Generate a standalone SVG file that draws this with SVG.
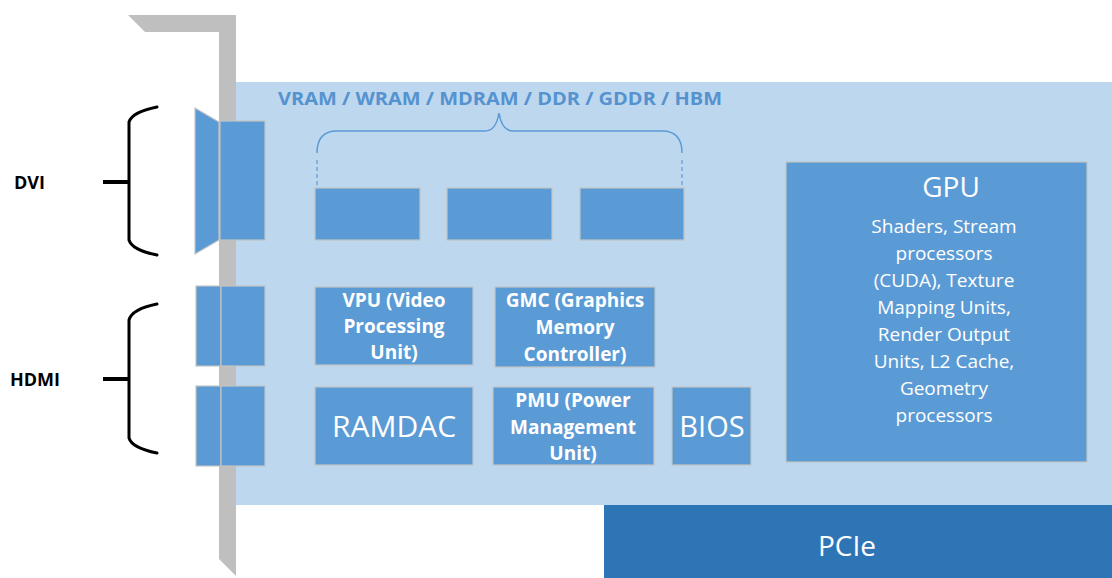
<svg xmlns="http://www.w3.org/2000/svg" width="1112" height="578" viewBox="0 0 1112 578">
<style>
.box{fill:#5b9bd5;stroke:#c3c3c3;stroke-width:1.2}
.wt{fill:#ffffff;font-family:"Open Sans","Liberation Sans",sans-serif;text-anchor:middle}
.b{font-weight:bold}
.brace{fill:none;stroke:#000;stroke-width:3;stroke-linecap:round}
.lbl{font-family:"Open Sans","Liberation Sans",sans-serif;font-weight:bold;font-size:18px;fill:#000}
</style>
<rect width="1112" height="578" fill="#ffffff"/>
<g id="board">
<rect x="236" y="82" width="876" height="423" fill="#bdd7ee"/>
</g>
<g id="bracket">
<polygon points="128,15 236,15 236,576 219,559 219,32 145,32" fill="#bfbfbf"/>
</g>
<g id="pcie">
<rect x="604" y="505" width="508" height="73" fill="#2e75b6"/>
<text class="wt" x="847" y="556" font-size="28">PCIe</text>
</g>
<g id="dvi-port">
<polygon class="box" points="195,108 219,122 219,240 195,254"/>
<rect class="box" x="220" y="121" width="45" height="119"/>
</g>
<g id="hdmi-port-1">
<rect class="box" x="196" y="286" width="25" height="80"/>
<rect class="box" x="221" y="286" width="44" height="80"/>
</g>
<g id="hdmi-port-2">
<rect class="box" x="196" y="386" width="25" height="80"/>
<rect class="box" x="221" y="386" width="44" height="80"/>
</g>
<g id="dvi-label">
<path class="brace" d="M157,107 Q132,112 129,122 L129,240 Q132,250 157,255"/>
<line x1="103" y1="182" x2="129" y2="182" stroke="#000" stroke-width="4"/>
<text class="lbl" x="14" y="189">DVI</text>
</g>
<g id="hdmi-label">
<path class="brace" d="M157,304 Q132,309 129,320 L129,438 Q132,448 157,453"/>
<line x1="103" y1="379" x2="129" y2="379" stroke="#000" stroke-width="4"/>
<text class="lbl" x="10" y="386">HDMI</text>
</g>
<g id="memory">
<text x="500" y="105" font-family="'Open Sans','Liberation Sans',sans-serif" font-weight="bold" font-size="18" fill="#5592cf" text-anchor="middle" textLength="444" lengthAdjust="spacingAndGlyphs">VRAM / WRAM / MDRAM / DDR / GDDR / HBM</text>
<path d="M317,153 Q317,131 337,131 L485,131 Q496,131 499,113 Q502,131 513,131 L662,131 Q682,131 682,153" fill="none" stroke="#5b9bd5" stroke-width="1.5"/>
<line x1="317" y1="160" x2="317" y2="208" stroke="#5b9bd5" stroke-width="1.2" stroke-dasharray="4,3"/>
<line x1="682" y1="160" x2="682" y2="208" stroke="#5b9bd5" stroke-width="1.2" stroke-dasharray="4,3"/>
<rect class="box" x="315" y="188" width="105" height="52"/>
<rect class="box" x="447" y="188" width="105" height="52"/>
<rect class="box" x="580" y="188" width="104" height="52"/>
</g>
<g id="vpu">
<rect class="box" x="315" y="287" width="158" height="78"/>
<text class="wt b" font-size="19"><tspan x="394" y="307">VPU (Video</tspan><tspan x="394" y="333">Processing</tspan><tspan x="394" y="359">Unit)</tspan></text>
</g>
<g id="gmc">
<rect class="box" x="495" y="287" width="160" height="80"/>
<text class="wt b" font-size="19"><tspan x="575" y="307">GMC (Graphics</tspan><tspan x="575" y="334">Memory</tspan><tspan x="575" y="361">Controller)</tspan></text>
</g>
<g id="ramdac">
<rect class="box" x="315" y="387" width="158" height="78"/>
<text class="wt" x="394" y="437" font-size="30">RAMDAC</text>
</g>
<g id="pmu">
<rect class="box" x="493" y="387" width="161" height="78"/>
<text class="wt b" font-size="19"><tspan x="573" y="407">PMU (Power</tspan><tspan x="573" y="434">Management</tspan><tspan x="573" y="460">Unit)</tspan></text>
</g>
<g id="bios">
<rect class="box" x="672" y="387" width="79" height="78"/>
<text class="wt" x="712" y="437" font-size="29">BIOS</text>
</g>
<g id="gpu">
<rect class="box" x="786" y="162" width="301" height="300"/>
<text class="wt" x="951" y="197" font-size="28">GPU</text>
<text class="wt" font-size="19"><tspan x="944" y="233">Shaders, Stream</tspan><tspan x="944" y="260">processors</tspan><tspan x="944" y="287">(CUDA), Texture</tspan><tspan x="944" y="314">Mapping Units,</tspan><tspan x="944" y="341">Render Output</tspan><tspan x="944" y="368">Units, L2 Cache,</tspan><tspan x="944" y="395">Geometry</tspan><tspan x="944" y="422">processors</tspan></text>
</g>
<g id="connectors"></g>
</svg>
